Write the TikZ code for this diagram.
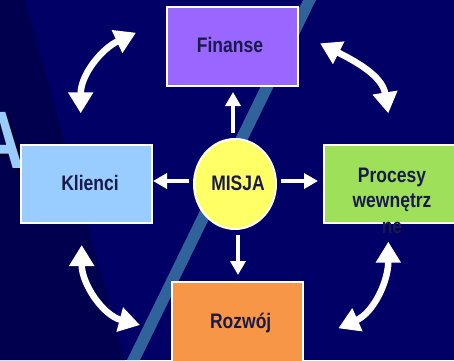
\documentclass[tikz,border=0pt]{standalone}
\usepackage{fontspec}
\setmainfont{Liberation Sans}
\usetikzlibrary{arrows.meta,shapes.geometric}
\definecolor{bgmain}{HTML}{000066}
\definecolor{bgdark}{HTML}{00004F}
\definecolor{stripec}{HTML}{2F6399}
\definecolor{txt}{HTML}{1A1A4A}
\definecolor{finc}{HTML}{9966FF}
\definecolor{klic}{HTML}{99CCFF}
\definecolor{proc}{HTML}{9FE05A}
\definecolor{rozc}{HTML}{F79646}
\definecolor{misc}{HTML}{FFFF66}
\definecolor{shadowc}{HTML}{000026}
\newcommand{\stx}[1]{\scalebox{1}[1.2]{#1}}
\begin{document}
\begin{tikzpicture}[x=1pt,y=1pt,
  box/.style={draw=white, line width=1.5pt, rectangle, inner sep=0pt},
  lbl/.style={text=txt, font=\fontsize{17.5}{21}\selectfont\bfseries, inner sep=0pt, anchor=base},
  thinarrow/.style={draw=white, line width=4pt, -{Triangle[length=14pt,width=15pt]}},
  bigarrow/.style={draw=white, line width=6.5pt, {Triangle[length=21pt,width=24pt]}-{Triangle[length=21pt,width=24pt]}},
]
\useasboundingbox (0,0) rectangle (454,360);
\fill[bgmain] (0,0) rectangle (454,360);
\fill[bgdark] (0,0) -- (0,360) -- (25,360) -- (125,0) -- cycle;
\fill[stripec] (303,360) -- (316,360) -- (140,0) -- (127,0) -- cycle;

% big letter at the left edge
\node[anchor=base west, inner sep=0pt, text=shadowc, font=\fontsize{68}{68}\selectfont\bfseries] (bigAs) at (-22,189) {\stx{A}};
\node[anchor=base west, inner sep=0pt, text=klic, font=\fontsize{68}{68}\selectfont\bfseries] (bigA) at (-25,192) {\stx{A}};

% boxes
\node[box, fill=finc, minimum width=131pt, minimum height=79pt] (fin) at (232.5,313.5) {};
\node[box, fill=klic, minimum width=131pt, minimum height=78pt] (kli) at (86.5,176) {};
\node[box, fill=proc, minimum width=132pt, minimum height=78pt] (pro) at (390,176) {};
\node[box, fill=rozc, minimum width=131pt, minimum height=80pt] (roz) at (237.5,38) {};
\node[ellipse, draw=white, line width=2pt, fill=misc, minimum width=82pt, minimum height=90pt, inner sep=0pt] (mis) at (235,176) {};

% labels
\node[lbl] (finT) at (230,308) {\stx{Finanse}};
\node[lbl] (kliT) at (90,170) {\stx{Klienci}};
\node[lbl] (misT) at (238,170) {\stx{MISJA}};
\node[lbl] (rozT) at (240.7,32) {\stx{Rozwój}};
\node[lbl] (proT1) at (392,178) {\stx{Procesy}};
\node[lbl] (proT2) at (392,153) {\stx{wewnętrz}};
\node[lbl] (proT3) at (392,127) {\stx{ne}};

% straight arrows from the mission
\coordinate (upS) at (233,227);   \coordinate (upE) at (233,268);
\coordinate (dnS) at (238,125);   \coordinate (dnE) at (238,85);
\coordinate (lfS) at (189,179);   \coordinate (lfE) at (153,179);
\coordinate (rtS) at (281,179);   \coordinate (rtE) at (318,179);
\draw[thinarrow] (upS) -- (upE);
\draw[thinarrow] (dnS) -- (dnE);
\draw[thinarrow] (lfS) -- (lfE);
\draw[thinarrow] (rtS) -- (rtE);

% curved double arrows
\coordinate (tlB) at (80.7,246.7);  \coordinate (tlA) at (136,327.3);
\coordinate (trB) at (388.3,246.7); \coordinate (trA) at (320,316.7);
\coordinate (blT) at (81.7,115);    \coordinate (blR) at (140,35);
\coordinate (brT) at (388.3,118.3); \coordinate (brL) at (338.3,31.7);
\draw[bigarrow] (tlB) to[out=90,in=205] (tlA);
\draw[bigarrow] (trB) to[out=99,in=-27] (trA);
\draw[bigarrow] (blT) to[out=-90,in=165] (blR);
\draw[bigarrow] (brT) to[out=-90,in=24] (brL);
\end{tikzpicture}
\end{document}
